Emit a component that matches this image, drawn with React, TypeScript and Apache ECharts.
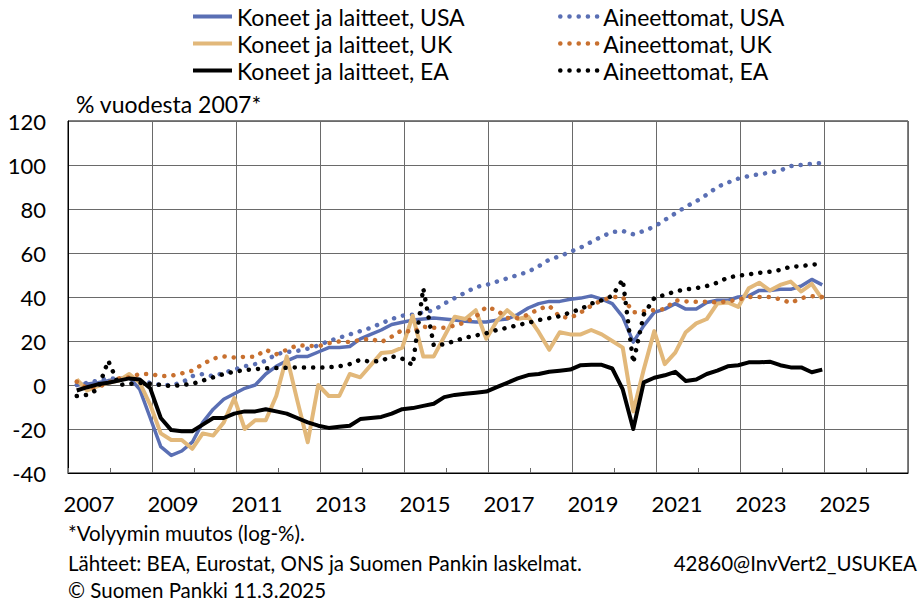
import React, { useEffect, useRef } from "react";
import * as echarts from "echarts";

// Quarterly observations 2007Q1 – 2024Q4
const startYear = 2007;
const quarterCount = 72;
const quarters: string[] = Array.from({ length: quarterCount }, (_, i) => `${startYear + Math.floor(i / 4)}Q${(i % 4) + 1}`);

// Year categories for the axis (labels shown every second year)
const yearLabels = [
  "2007", "2008", "2009", "2010", "2011", "2012", "2013", "2014", "2015", "2016",
  "2017", "2018", "2019", "2020", "2021", "2022", "2023", "2024", "2025", "2026",
];

const usaMachinery = [
  0, 0.5, 1, 2, 2.5, 3.5, -2, -15, -28, -32, -30, -26,
  -17, -11, -6.5, -4, -1.5, 0, 5, 8.5, 11, 13, 13, 15,
  17, 17, 17.5, 21, 23, 25, 27.5, 28.5, 29.5, 30, 30.5, 30,
  29.5, 29, 28.6, 28.6, 29.5, 30, 32, 35, 37, 38, 38, 39,
  39.5, 40.5, 39, 37, 31, 19.5, 27, 33, 34.5, 37, 34.5, 34.5,
  37.5, 38.5, 38.5, 40, 40.5, 43, 43, 43.5, 43.5, 45, 48, 45.5,
];
const usaIntangibles = [
  0, 1, 2, 3, 3, 3, 2, 1, 0, 0, 1, 4,
  5, 4, 5.5, 7, 8.5, 9.5, 11, 14, 15, 15.5, 16.5, 18,
  20, 21.5, 23, 24.5, 26, 28, 30, 31.5, 32, 33, 34, 37,
  39.5, 42, 44.5, 45.5, 47, 48.5, 50, 51.5, 54, 57, 58.5, 60.5,
  62.5, 65, 67.5, 69.5, 70, 68.5, 70, 72, 75, 78, 81, 83.5,
  86.5, 90, 92, 93.8, 95, 95.8, 96.5, 97.5, 99.5, 100, 100.5, 101,
];
const ukMachinery = [
  2.5, -2.5, -0.5, 1, 2, 5, 1, -9, -22, -25, -25, -29,
  -22, -23, -17, -6, -20, -16, -16, -5, 13, -7, -26, 0,
  -5, -5, 5, 3.5, 9, 14.5, 15, 17, 31.5, 13, 13, 22,
  31, 30, 34, 21, 29, 34, 30, 31, 24, 16, 24, 23,
  23, 25, 23, 20, 17, -12, 7, 24.5, 9.5, 14.7, 24, 28,
  30, 37, 37.5, 35.5, 44, 46.5, 43, 45.5, 47, 42.5, 46, 39,
];
const ukIntangibles = [
  1.5, -1.5, -1, 1, 3, 3.5, 5, 5, 4, 4.2, 5.3, 6.5,
  9.5, 12, 13, 12.5, 12.8, 12.8, 16, 14, 16, 18, 17.8, 17.6,
  19, 19.8, 19.5, 20.5, 21, 19.5, 22, 25, 24, 26.5, 26, 26,
  27, 28.5, 31, 35.5, 34, 30.5, 30.5, 32, 34.5, 36, 31, 30.5,
  33, 36, 38.5, 40, 40, 33, 33.5, 34, 34.5, 38.5, 38, 37.8,
  37.8, 37.5, 38, 38.8, 40, 40, 40, 39, 37.3, 39.5, 40.4, 40,
];
const eaMachinery = [
  -2.5, -1, 0.3, 1, 2, 3, 2.5, -1.5, -15, -20.5, -21, -21,
  -18, -15, -15, -13, -12, -12, -11, -12, -13, -15, -17, -18.5,
  -19.5, -19, -18.5, -15.5, -15, -14.5, -13, -11, -10.5, -9.5, -8.5, -5.5,
  -4.5, -4, -3.5, -3, -1, 1, 3, 4.5, 5, 6, 6.5, 7,
  9, 9.2, 9.2, 7.5, -2, -20, 1.2, 3.3, 4.4, 6, 1.8, 2.5,
  5, 6.5, 8.5, 9, 10.3, 10.3, 10.6, 9, 8, 8, 5.8, 7,
];
const eaIntangibles = [
  -5, -4.5, -2, 11, 0, 0.5, 1, 0.5, 0, -0.5, 0, 0.5,
  2, 3.5, 5, 6, 6.8, 7.2, 7.6, 7.7, 7.8, 8, 8, 8,
  8, 8.5, 9.5, 11.5, 10.5, 11, 13, 12, 9, 44, 18, 18.5,
  20, 21.5, 22.5, 23.5, 25, 26, 27.2, 28.3, 29.5, 30.4, 31.3, 33,
  34.5, 37, 38.5, 40.5, 48, 10, 32, 39.5, 41, 42.5, 43.5, 44,
  45, 46.5, 48.8, 49.7, 50.3, 51, 51.5, 52.3, 53.8, 54, 54.7, 55,
];

const yMin = -40;
const yMax = 120;
const yStep = 20;

const FONT = "Lato";
const BLUE = "#5a6fb4";
const TAN = "#e2b87a";
const ORANGE = "#c8702f";

// position of a quarterly observation on the time axis (mid of last month of quarter)
const quarterToX = (q: string) => {
  const y = parseInt(q.slice(0, 4), 10);
  const n = parseInt(q.slice(5), 10);
  return y + n / 4 - 1 / 24;
};

const seriesDefs = [
  { name: "Koneet ja laitteet, USA", values: usaMachinery, color: BLUE, dotted: false, width: 3.5 },
  { name: "Aineettomat, USA", values: usaIntangibles, color: BLUE, dotted: true, width: 4.5 },
  { name: "Koneet ja laitteet, UK", values: ukMachinery, color: TAN, dotted: false, width: 4 },
  { name: "Aineettomat, UK", values: ukIntangibles, color: ORANGE, dotted: true, width: 4.5 },
  { name: "Koneet ja laitteet, EA", values: eaMachinery, color: "#000000", dotted: false, width: 4 },
  { name: "Aineettomat, EA", values: eaIntangibles, color: "#000000", dotted: true, width: 4.5 },
];

export default function App() {
  const ref = useRef<HTMLDivElement>(null);

  useEffect(() => {
    document.body.style.margin = "0";
    if (!ref.current) return;
    const chart = echarts.init(ref.current, undefined, { renderer: "svg" });

    const legendText = { fontFamily: FONT, fontSize: 23, color: "#000", lineHeight: 27 };
    const gridColor = "#6a6a6a";
    const hiddenSymbol = { opacity: 0, color: "rgba(0,0,0,0)", borderWidth: 0 };

    chart.setOption({
      animation: false,
      backgroundColor: "#ffffff",
      textStyle: { fontFamily: FONT },
      grid: {
        left: 68,
        top: 121,
        right: 13,
        bottom: 128,
        show: true,
        borderColor: "#000",
        borderWidth: 1,
        containLabel: false,
      },
      legend: [
        {
          orient: "vertical",
          left: 191,
          top: 3,
          padding: 0,
          itemWidth: 39,
          itemHeight: 12,
          itemGap: 0,
          data: [seriesDefs[0].name, seriesDefs[2].name, seriesDefs[4].name],
          textStyle: legendText,
          lineStyle: { width: 4 },
          itemStyle: hiddenSymbol,
          selectedMode: false,
        },
        {
          orient: "vertical",
          left: 558,
          top: 3,
          padding: 0,
          itemWidth: 38,
          itemHeight: 12,
          itemGap: 0,
          data: [seriesDefs[1].name, seriesDefs[3].name, seriesDefs[5].name],
          textStyle: legendText,
          lineStyle: { width: 4.5 },
          itemStyle: hiddenSymbol,
          selectedMode: false,
        },
      ],
      xAxis: [
        {
          type: "value",
          min: 2007,
          max: 2027,
          show: false,
        },
        {
          type: "category",
          data: yearLabels,
          boundaryGap: true,
          position: "bottom",
          axisLine: { show: true, lineStyle: { color: "#000", width: 1 } },
          axisTick: { show: true, inside: true, length: 5, interval: 0, alignWithLabel: false, lineStyle: { color: gridColor } },
          axisLabel: { interval: 1, fontFamily: FONT, fontSize: 22, color: "#000", margin: 19 },
          splitLine: { show: true, interval: 1, lineStyle: { color: gridColor, width: 1 } },
        },
      ],
      yAxis: {
        type: "value",
        min: yMin,
        max: yMax,
        interval: yStep,
        axisLine: { show: true, lineStyle: { color: "#000" } },
        axisTick: { show: false },
        axisLabel: { fontFamily: FONT, fontSize: 22, color: "#000", margin: 22 },
        splitLine: { show: true, lineStyle: { color: gridColor, width: 1 } },
      },
      series: seriesDefs.map((s) => ({
        name: s.name,
        type: "line",
        xAxisIndex: 0,
        symbol: "none",
        showSymbol: false,
        smooth: false,
        color: s.color,
        lineStyle: s.dotted
          ? { color: s.color, width: s.width, type: [0.1, 9.1], cap: "round" }
          : { color: s.color, width: s.width, cap: "butt", join: "round" },
        data: s.values.map((v, i) => [quarterToX(quarters[i]), v]),
      })),
      graphic: [
        {
          type: "text",
          x: 76,
          y: 104,
          style: { text: "% vuodesta 2007*", fontFamily: FONT, fontSize: 23, fill: "#000", align: "left", verticalAlign: "middle" },
        },
        {
          type: "text",
          x: 68,
          y: 533,
          style: { text: "*Volyymin muutos (log-%).", fontFamily: FONT, fontSize: 20.5, fill: "#000", align: "left", verticalAlign: "middle" },
        },
        {
          type: "text",
          x: 68,
          y: 563,
          style: { text: "Lähteet: BEA, Eurostat, ONS ja Suomen Pankin laskelmat.", fontFamily: FONT, fontSize: 20.5, fill: "#000", align: "left", verticalAlign: "middle" },
        },
        {
          type: "text",
          x: 917,
          y: 563,
          style: { text: "42860@InvVert2_USUKEA", fontFamily: FONT, fontSize: 20.5, fill: "#000", align: "right", verticalAlign: "middle" },
        },
        {
          type: "text",
          x: 68,
          y: 590,
          style: { text: "© Suomen Pankki 11.3.2025", fontFamily: FONT, fontSize: 20.5, fill: "#000", align: "left", verticalAlign: "middle" },
        },
      ],
    });

    return () => chart.dispose();
  }, []);

  return <div ref={ref} style={{ width: 921, height: 601 }} />;
}
